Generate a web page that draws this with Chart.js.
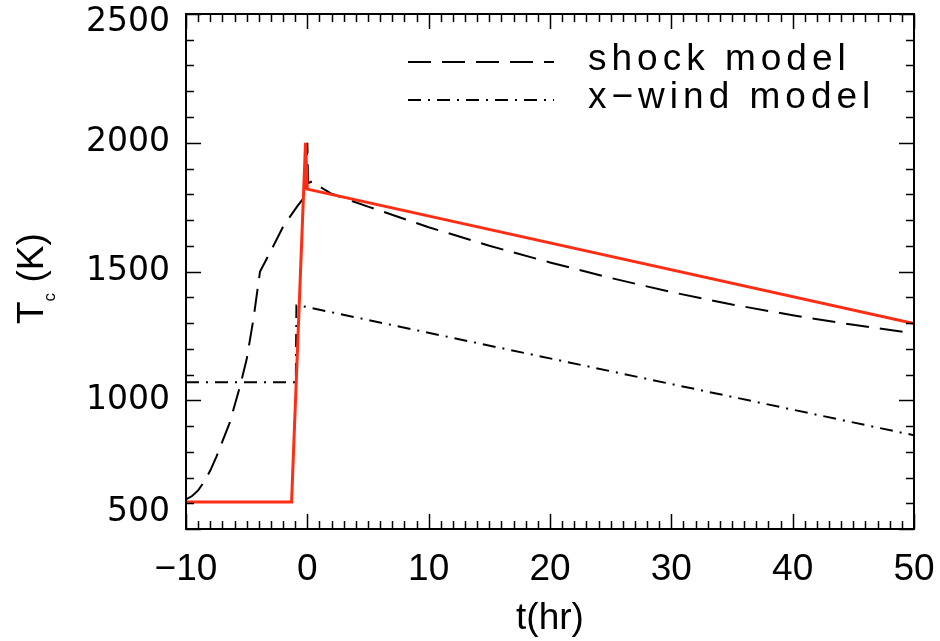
<!DOCTYPE html>
<html>
<head>
<meta charset="utf-8">
<script src="https://cdn.jsdelivr.net/npm/chart.js@4.4.1/dist/chart.umd.min.js"></script>
<style>
  html, body { margin: 0; padding: 0; background: #fff; }
  canvas { display: block; }
</style>
</head>
<body>
<canvas id="chart" width="940" height="641"></canvas>
<script>
// shock model (dashed), t in hours, Tc in K
const shockT  = [-10, -9.5, -9, -8.5, -8, -7.5, -7, -6.4, -5.55, -5.0, -4.45, -3.9, -3.07, -2.0, -0.85, -0.1, 0.0, 0.06, 0.4, 1.0, 2, 5, 10, 15, 20, 25, 30, 35, 40, 45, 50]
const shockTc = [615, 628, 650, 684, 727, 780, 840, 912, 1054, 1159, 1313, 1500, 1574, 1674, 1752, 1798, 2000, 1843, 1850, 1830, 1802, 1752, 1672, 1600, 1535, 1475, 1420, 1372, 1330, 1293, 1260]

// x-wind model (dash-dot)
const xwindT  = [-10, -0.95, -0.9, -0.65, 50]
const xwindTc = [1070, 1070, 1368, 1368, 864]

// red solid curve
const redT  = [-10, -1.3, -0.15, 0, 50]
const redTc = [605, 605, 2000, 1820, 1298]

const xTicks = [-10, 0, 10, 20, 30, 40, 50]
const yTicks = [500, 1000, 1500, 2000, 2500]
const legendLabels = ['shock model', 'x\u2212wind model']

const pts = (xs, ys) => xs.map((x, i) => ({ x: x, y: ys[i] }))

const LABEL_FONT = '"Liberation Sans", Arial, sans-serif'

// box + inward ticks on all four sides (IDL style)
const framePlugin = {
    id: 'frame',
    afterDatasetsDraw(chart) {
        const { ctx, chartArea: a, scales } = chart
        ctx.save()
        ctx.strokeStyle = '#000'
        ctx.lineWidth = 1.5
        ctx.beginPath()
        for (let v = -10; v <= 50; v += 1) {
            const px = Math.round(scales.x.getPixelForValue(v)) + 0.5
            const len = v % 10 === 0 ? 15 : 8
            ctx.moveTo(px, a.bottom); ctx.lineTo(px, a.bottom - len)
            ctx.moveTo(px, a.top); ctx.lineTo(px, a.top + len)
        }
        for (let v = 500; v <= 2500; v += 100) {
            const py = Math.round(scales.y.getPixelForValue(v)) + 0.5
            const len = v % 500 === 0 ? 15 : 8
            ctx.moveTo(a.left, py); ctx.lineTo(a.left + len, py)
            ctx.moveTo(a.right, py); ctx.lineTo(a.right - len, py)
        }
        ctx.stroke()
        ctx.lineWidth = 2
        ctx.strokeRect(a.left, a.top, a.right - a.left, a.bottom - a.top)
        ctx.restore()
    }
}

// legend drawn inside the plot, top right
const legendPlugin = {
    id: 'insideLegend',
    afterDatasetsDraw(chart) {
        const ctx = chart.ctx
        const a = chart.chartArea
        const rows = [1, 2]
        ctx.save()
        rows.forEach((dsIndex, i) => {
            const ds = chart.data.datasets[dsIndex]
            const y = a.top + 48 + i * 38
            ctx.strokeStyle = ds.borderColor
            ctx.lineWidth = ds.borderWidth
            ctx.setLineDash(ds.borderDash || [])
            ctx.beginPath()
            ctx.moveTo(a.left + 222, y)
            ctx.lineTo(a.left + 368, y)
            ctx.stroke()
            ctx.setLineDash([])
            ctx.fillStyle = '#000'
            ctx.font = '37px ' + LABEL_FONT
            ctx.letterSpacing = '5px'
            ctx.textBaseline = 'alphabetic'
            ctx.fillText(legendLabels[i], a.left + 402, y + 8)
        })
        ctx.restore()
    }
}

// y axis title with a subscript: T_c (K)
const yTitlePlugin = {
    id: 'yTitle',
    afterDraw(chart) {
        const ctx = chart.ctx
        ctx.save()
        ctx.translate(43, 268)
        ctx.rotate(-Math.PI / 2)
        ctx.fillStyle = '#000'
        ctx.textBaseline = 'alphabetic'
        ctx.font = '37px ' + LABEL_FONT
        let x = -56
        ctx.fillText('T', x, 0)
        x += ctx.measureText('T').width
        ctx.font = '17px ' + LABEL_FONT
        ctx.fillText('c', x, 12)
        x += ctx.measureText('c').width
        ctx.font = '37px ' + LABEL_FONT
        ctx.fillText(' (K)', x, 0)
        ctx.restore()
    }
}

new Chart(document.getElementById('chart'), {
    type: 'line',
    data: {
        datasets: [
            {
                data: pts(redT, redTc),
                borderColor: '#ff2d14',
                borderWidth: 3,
                pointRadius: 0,
                tension: 0
            },
            {
                label: legendLabels[0],
                data: pts(shockT, shockTc),
                borderColor: '#000',
                borderWidth: 2,
                borderDash: [23, 11],
                pointRadius: 0,
                tension: 0
            },
            {
                label: legendLabels[1],
                data: pts(xwindT, xwindTc),
                borderColor: '#000',
                borderWidth: 2,
                borderDash: [13, 7, 2, 7],
                pointRadius: 0,
                tension: 0
            }
        ]
    },
    options: {
        responsive: false,
        animation: false,
        layout: { padding: { top: 14, right: 26, left: 0, bottom: 0 } },
        plugins: {
            legend: { display: false },
            tooltip: { enabled: false }
        },
        scales: {
            x: {
                type: 'linear',
                min: -10,
                max: 50,
                afterBuildTicks: s => { s.ticks = xTicks.map(v => ({ value: v })) },
                afterFit: s => { s.height = 112; s.paddingLeft = 0; s.paddingRight = 0 },
                grid: { display: true, drawOnChartArea: false, drawTicks: false },
                border: { display: false },
                ticks: {
                    color: '#000',
                    padding: 19,
                    maxRotation: 0,
                    font: { family: LABEL_FONT, size: 37 },
                    callback: v => v < 0 ? '\u2212' + Math.abs(v) : String(v)
                },
                title: {
                    display: true,
                    text: 't(hr)',
                    color: '#000',
                    padding: 0,
                    font: { family: LABEL_FONT, size: 37 }
                }
            },
            y: {
                type: 'linear',
                min: 500,
                max: 2500,
                afterBuildTicks: s => { s.ticks = yTicks.map(v => ({ value: v })) },
                afterFit: s => { s.width = 186; s.paddingTop = 0; s.paddingBottom = 0 },
                grid: { display: true, drawOnChartArea: false, drawTicks: false },
                border: { display: false },
                ticks: {
                    color: '#000',
                    padding: 16,
                    font: ctx => {
                        const v = ctx.tick && ctx.tick.value
                        // end labels sit a little inside the box, as in the original
                        let lh = 1.2
                        if (v === 2500) lh = 0.485
                        if (v === 500) lh = 1.03
                        return { family: '"DejaVu Sans", sans-serif', size: 33, lineHeight: lh }
                    },
                    callback: v => v === 2500 ? ['', '2500'] : v === 500 ? ['500', ''] : String(v)
                }
            }
        }
    },
    plugins: [framePlugin, legendPlugin, yTitlePlugin]
})
</script>
</body>
</html>
